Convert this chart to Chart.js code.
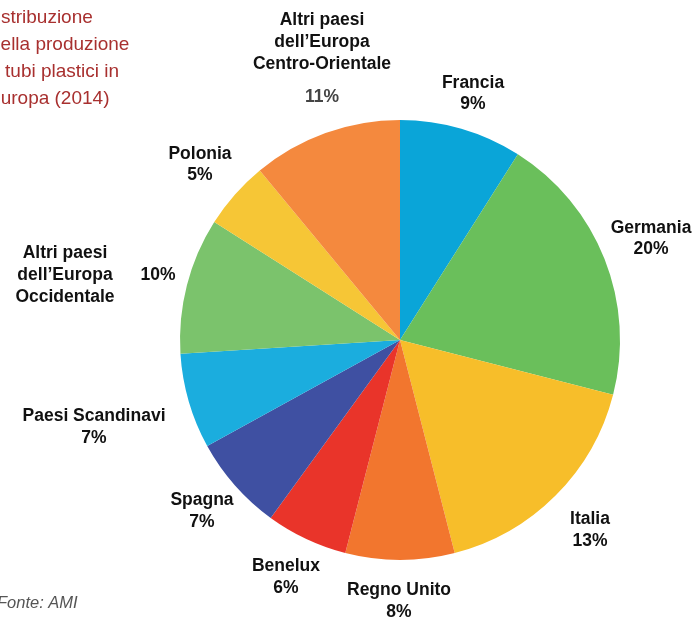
<!DOCTYPE html>
<html>
<head>
<meta charset="utf-8">
<script src="https://cdn.jsdelivr.net/npm/chart.js@4/dist/chart.umd.min.js"></script>
<style>
  html, body { margin: 0; padding: 0; background: #fff; }
  #wrap { position: relative; width: 694px; height: 618px; }
</style>
</head>
<body>
<div id="wrap"><canvas id="pieChart" width="694" height="618"></canvas></div>
<script>
// countries, clockwise from the top
const countries = ["Francia", "Germania", "Italia", "Regno Unito", "Benelux", "Spagna",
    "Paesi Scandinavi", "Altri paesi dell'Europa Occidentale", "Polonia",
    "Altri paesi dell'Europa Centro-Orientale"];
// slice sizes as drawn in the picture
const shares = [9, 20, 17, 8, 6, 7, 7, 10, 5, 11];
// percentages printed next to each slice
const shareLabels = ["9%", "20%", "13%", "8%", "6%", "7%", "7%", "10%", "5%", "11%"];
const sliceColors = ["#0aa5d8", "#6abf5b", "#f7be2a", "#f2762e", "#e9342a", "#3f50a2",
    "#1badde", "#7bc36c", "#f6c636", "#f4893e"];

const titleLines = ["Distribuzione", "della produzione", "di tubi plastici in", "Europa (2014)"];
const titleOffsets = [-17, -10, -15, -12];   // the title is cut off on the left edge

// label blocks: name lines, then percent, with their placement
const labelBlocks = [
    { lines: ["Francia"], x: 473, y: 83, pct: [473, 104] },
    { lines: ["Germania"], x: 651, y: 228, pct: [651, 249] },
    { lines: ["Italia"], x: 590, y: 519, pct: [590, 541] },
    { lines: ["Regno Unito"], x: 399, y: 590, pct: [399, 612] },
    { lines: ["Benelux"], x: 286, y: 566, pct: [286, 588] },
    { lines: ["Spagna"], x: 202, y: 500, pct: [202, 522] },
    { lines: ["Paesi Scandinavi"], x: 94, y: 416, pct: [94, 438] },
    { lines: ["Altri paesi", "dell\u2019Europa", "Occidentale"], x: 65, y: 253, pct: [158, 275] },
    { lines: ["Polonia"], x: 200, y: 154, pct: [200, 175] },
    { lines: ["Altri paesi", "dell\u2019Europa", "Centro-Orientale"], x: 322, y: 20, pct: [322, 97], grey: true }
];

const textPlugin = {
    id: 'textPlugin',
    afterDraw(chart) {
        const ctx = chart.ctx;
        ctx.save();
        ctx.textAlign = 'center';
        ctx.textBaseline = 'middle';
        ctx.font = 'bold 17.5px "Liberation Sans", Arial, sans-serif';
        labelBlocks.forEach(function (b, i) {
            ctx.fillStyle = '#111';
            b.lines.forEach(function (line, j) {
                ctx.fillText(line, b.x, b.y + j * 22);
            });
            ctx.fillStyle = b.grey ? '#444' : '#111';
            ctx.fillText(shareLabels[i], b.pct[0], b.pct[1]);
        });

        ctx.textAlign = 'left';
        ctx.fillStyle = '#a8302f';
        ctx.font = '19px "Liberation Sans", Arial, sans-serif';
        titleLines.forEach(function (line, j) {
            ctx.fillText(line, titleOffsets[j], 18 + j * 27);
        });

        ctx.fillStyle = '#555';
        ctx.font = 'italic 16.5px "Liberation Sans", Arial, sans-serif';
        ctx.fillText('Fonte: AMI', -3, 603);
        ctx.restore();
    }
};

const data = {
    labels: countries,
    datasets: [{
        data: shares,
        backgroundColor: sliceColors,
        borderWidth: 0
    }]
};

const options = {
    responsive: false,
    animation: false,
    layout: { padding: { left: 180, right: 74, top: 120, bottom: 58 } },
    plugins: {
        legend: { display: false },
        tooltip: { enabled: false }
    }
};

new Chart(document.getElementById('pieChart').getContext('2d'), {
    type: 'pie',
    data: data,
    options: options,
    plugins: [textPlugin]
});
</script>
</body>
</html>
